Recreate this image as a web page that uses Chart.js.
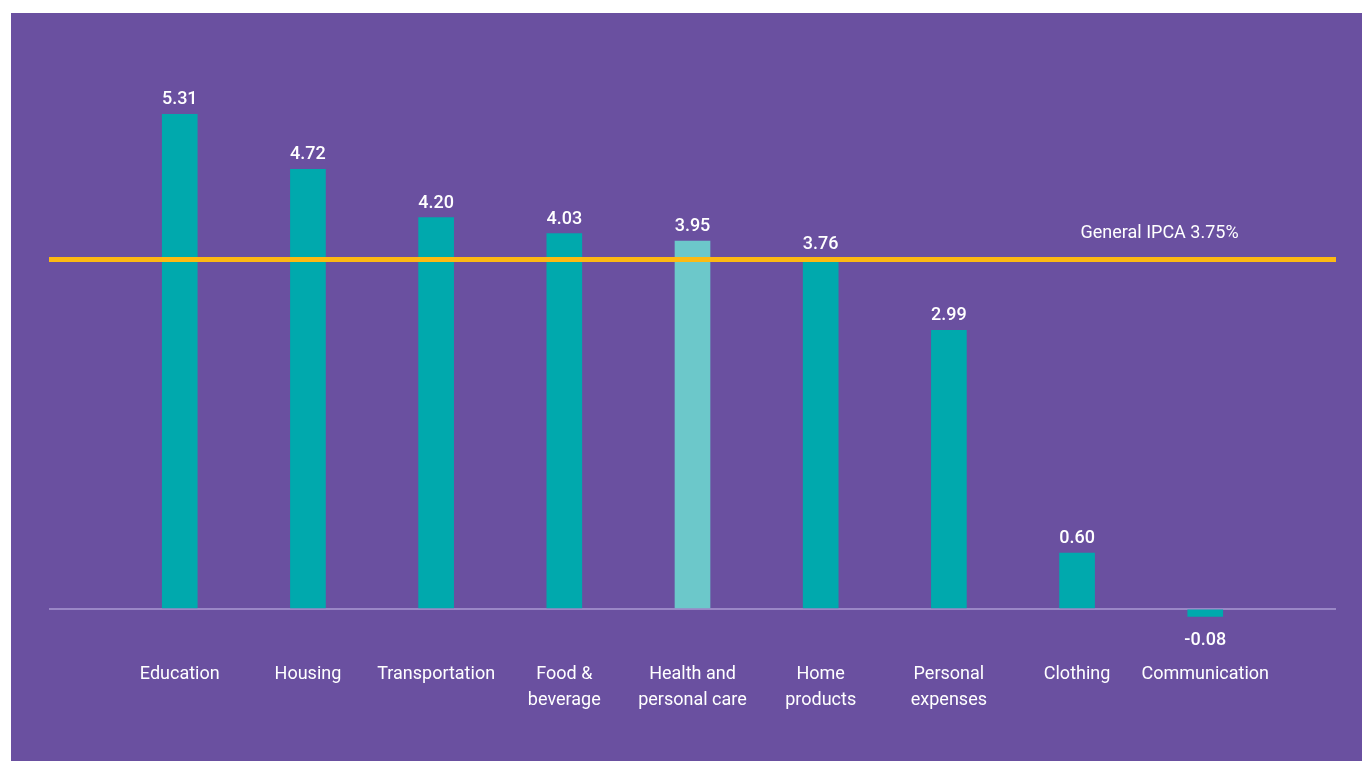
<!DOCTYPE html>
<html>
<head>
<meta charset="utf-8">
<script src="https://cdn.jsdelivr.net/npm/chart.js@4/dist/chart.umd.min.js"></script>
<style>
  html, body { margin: 0; padding: 0; background: #ffffff; }
  #box {
    position: absolute;
    left: 11px;
    top: 13px;
    width: 1351px;
    height: 748px;
    background: #6a50a0;
  }
</style>
</head>
<body>
<div id="box"><canvas id="ipcaChart" width="1351" height="748"></canvas></div>
<script>
// Data
const categories = [
  'Education', 'Housing', 'Transportation', ['Food &', 'beverage'],
  ['Health and', 'personal care'], ['Home', 'products'], ['Personal', 'expenses'],
  'Clothing', 'Communication'
];
const values = [5.31, 4.72, 4.20, 4.03, 3.95, 3.76, 2.99, 0.60, -0.08];
const highlightIndex = 4; // Health and personal care is drawn lighter
const generalIpca = 3.75;
const generalLabel = 'General IPCA 3.75%';

const FONT = 'Roboto, "Liberation Sans", sans-serif';

const barColors = values.map((v, i) => (i === highlightIndex ? '#6cc8ca' : '#00a9ad'));

// Value labels above (or below) each bar, and the IPCA caption
const labelPlugin = {
  id: 'valueLabels',
  afterDatasetsDraw(chart) {
    const ctx = chart.ctx;
    const meta = chart.getDatasetMeta(1);
    ctx.save();
    ctx.fillStyle = '#ffffff';
    ctx.font = '500 18px ' + FONT;
    ctx.textAlign = 'center';
    ctx.textBaseline = 'alphabetic';
    meta.data.forEach((bar, i) => {
      const v = values[i];
      if (v >= 0) {
        ctx.fillText(v.toFixed(2), bar.x, bar.y - 10);
      } else {
        ctx.fillText(v.toFixed(2), bar.x, bar.y + 29);
      }
    });

    const xs = chart.scales.x;
    const ys = chart.scales.y;
    ctx.textAlign = 'right';
    ctx.font = '18px ' + FONT;
    ctx.fillText(generalLabel, xs.getPixelForValue(8.26), ys.getPixelForValue(generalIpca) - 22);
    ctx.restore();
  }
};

new Chart(document.getElementById('ipcaChart'), {
  type: 'bar',
  data: {
    datasets: [
      {
        type: 'line',
        label: 'General IPCA',
        data: [{ x: -1.02, y: generalIpca }, { x: 9.02, y: generalIpca }],
        borderColor: '#fdb913',
        borderWidth: 5,
        pointRadius: 0,
        order: 0,
      },
      {
        label: 'IPCA by group',
        data: values.map((v, i) => ({ x: i, y: v })),
        backgroundColor: barColors,
        barThickness: 35,
        order: 1,
      },
    ],
  },
  options: {
    responsive: false,
    animation: false,
    layout: {
      padding: { top: 37, left: 38, right: 26, bottom: 33 },
    },
    plugins: {
      legend: { display: false },
      tooltip: { enabled: false },
    },
    scales: {
      x: {
        type: 'linear',
        min: -1.02,
        max: 9.02,
        offset: false,
        grid: { display: false, drawTicks: false },
        border: { display: false },
        ticks: {
          stepSize: 1,
          padding: 15,
          color: '#ffffff',
          font: { family: FONT, size: 18, lineHeight: 1.44 },
          maxRotation: 0,
          autoSkip: false,
          callback: (value) =>
            Number.isInteger(value) && value >= 0 && value < categories.length ? categories[value] : '',
        },
      },
      y: {
        display: true,
        min: -0.4,
        max: 6,
        ticks: { display: false, stepSize: 0.1 },
        border: { display: false },
        grid: {
          drawTicks: false,
          lineWidth: 2,
          color: (c) => (Math.abs(c.tick.value) < 1e-9 ? '#9a87c6' : 'rgba(0,0,0,0)'),
        },
      },
    },
  },
  plugins: [labelPlugin],
});
</script>
</body>
</html>
